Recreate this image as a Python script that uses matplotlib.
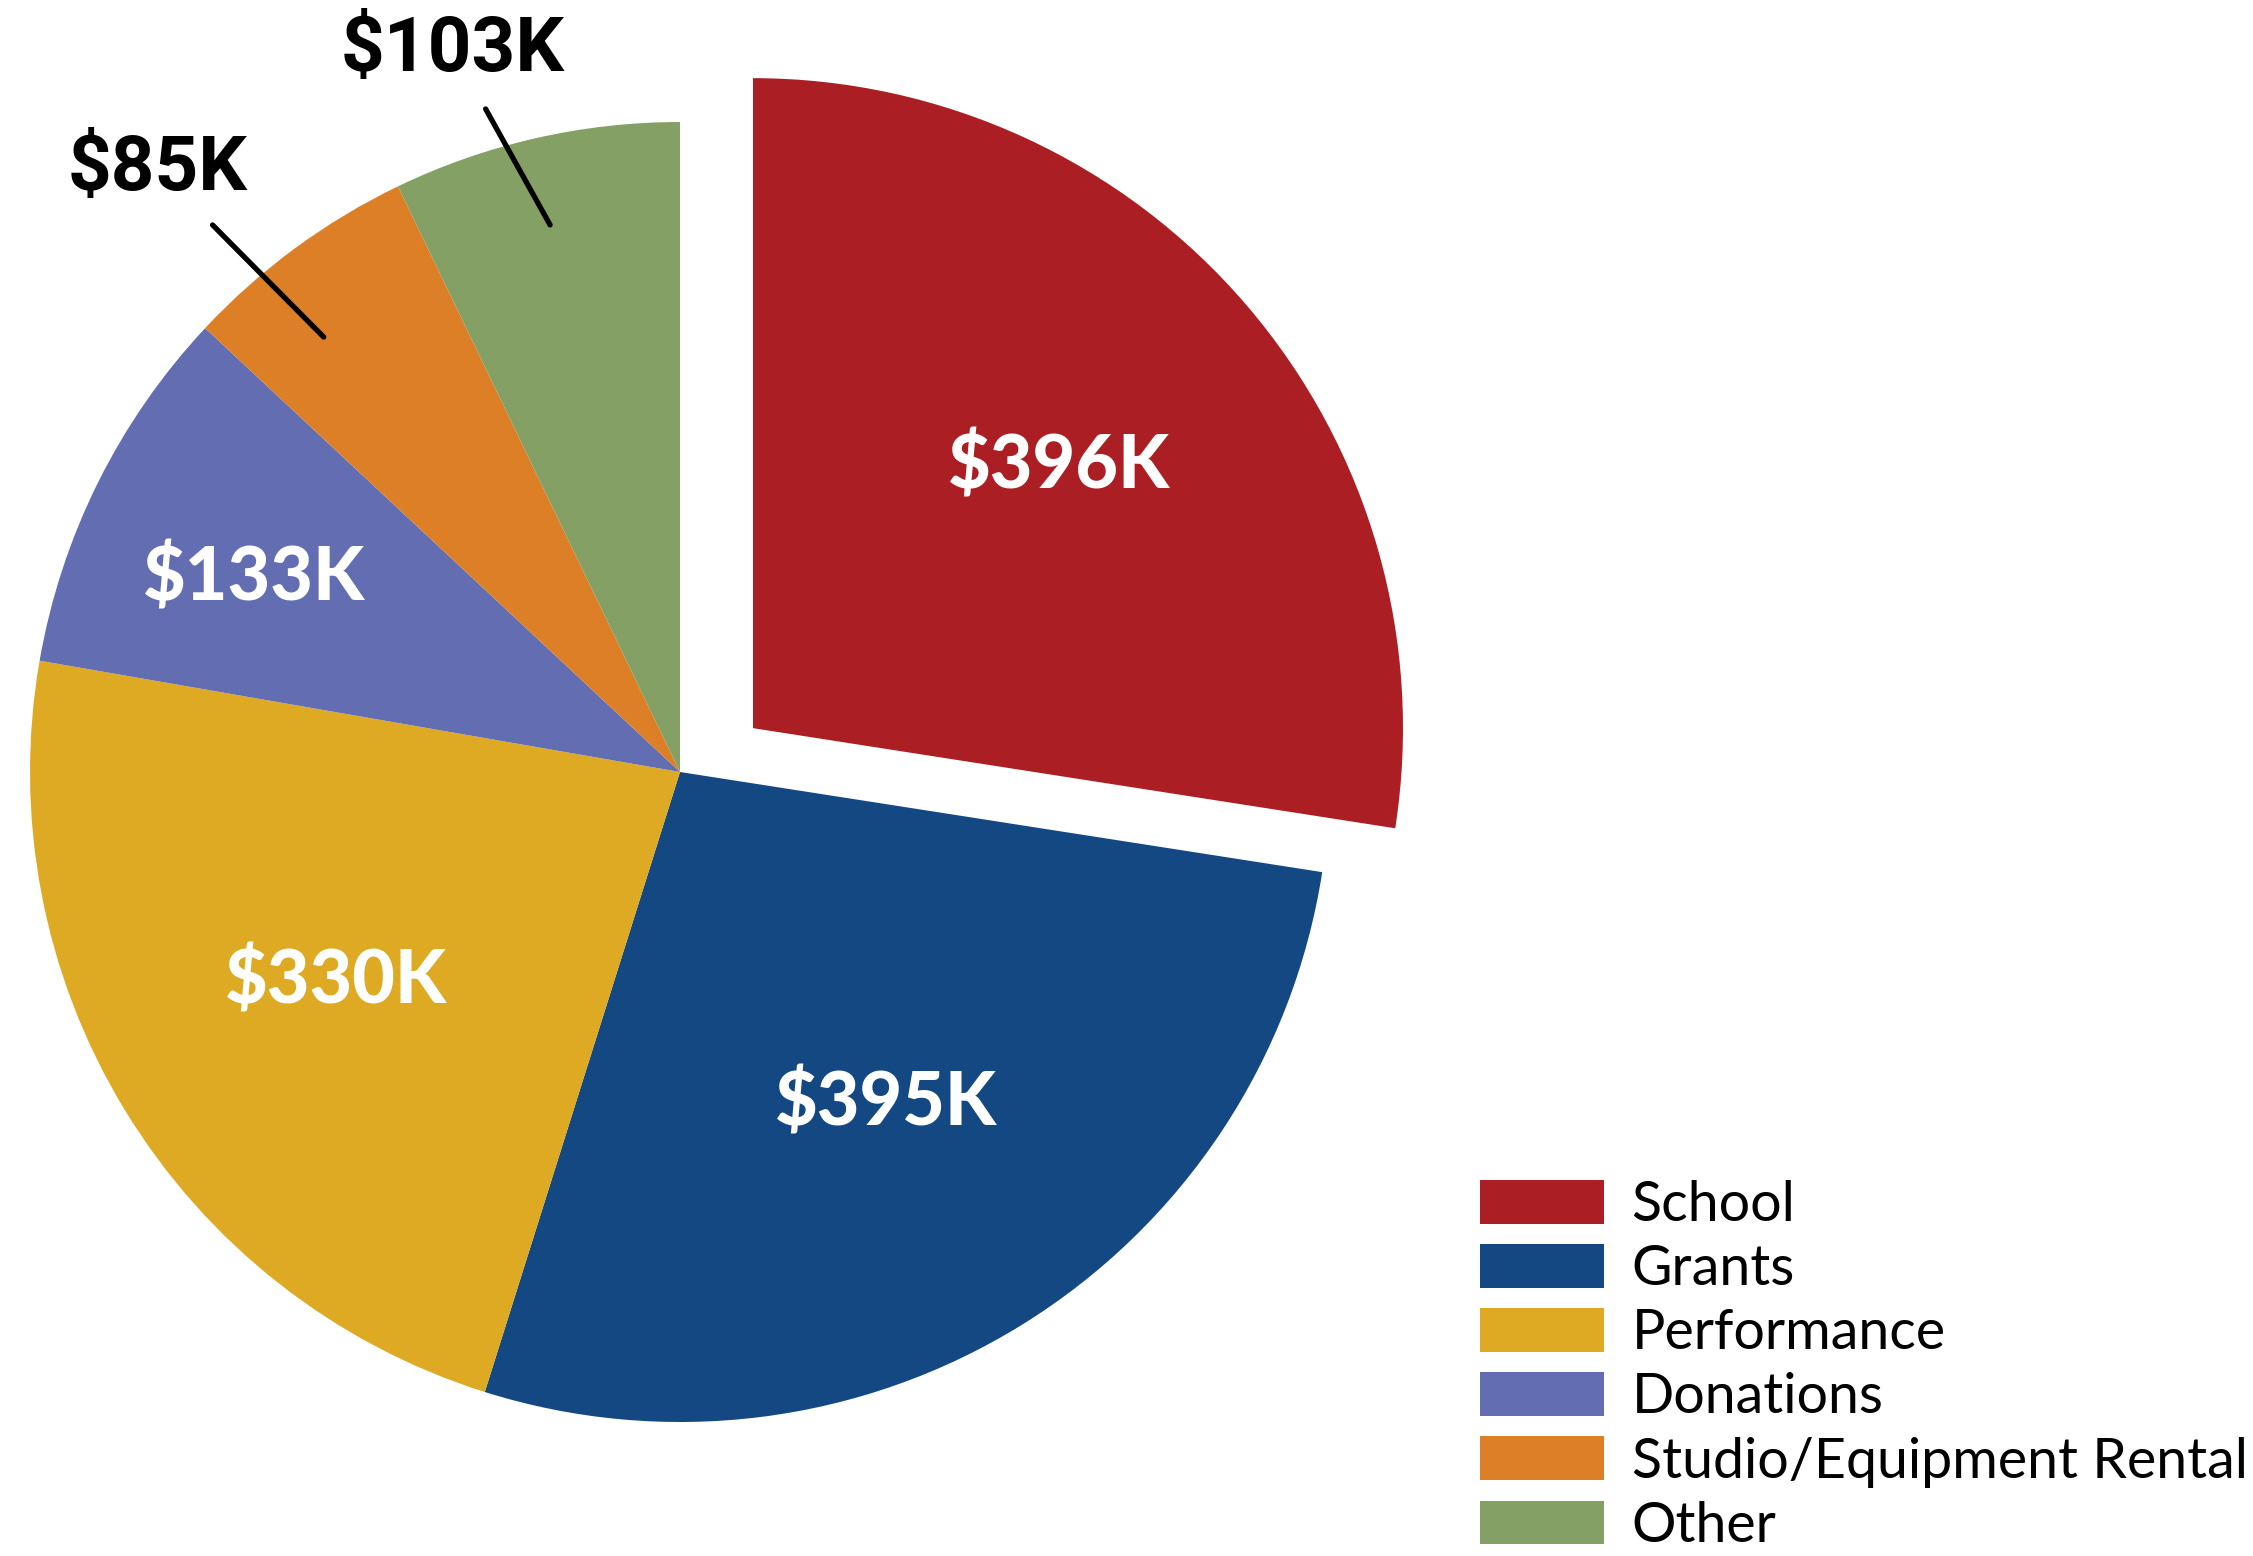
import numpy as np
import matplotlib
matplotlib.use('Agg')
import matplotlib.pyplot as plt

# revenue by source, thousands of dollars
sources = ['School', 'Grants', 'Performance', 'Donations',
           'Studio/Equipment Rental', 'Other']
revenue = [396, 395, 330, 133, 85, 103]
value_labels = ['$396K', '$395K', '$330K', '$133K', '$85K', '$103K']
colors = ['#AB1F24', '#144882', '#DEAA23', '#636DB2', '#DD7F27', '#84A064']

# label placement (radius as fraction, angle nudge in degrees)
inside = [True, True, True, True, False, False]
label_r = [0.62, 0.60, 0.62, 0.72, 1.226, 1.164]
label_dang = [0, 0, 0, 2.0, 4.6, 4.6]
line_r = 0.865
line_dang = [0, 0, 0, 0, 3.0, 0.5]

W, H = 2253, 1556
R = 650.0            # radius in px
cx, cy = 680.0, 772.0  # centre in px from top-left

fig = plt.figure(figsize=(W / 100, H / 100), dpi=100)
ax = fig.add_axes([0, 0, 1, 1])

wedges, _ = ax.pie(revenue, colors=colors, startangle=90, counterclock=False,
                   radius=1, wedgeprops=dict(linewidth=0))

# pull School slice out of the pie
shift = 0.131
ang = np.deg2rad(31)
wedges[0].set_center((shift * np.cos(ang), shift * np.sin(ang)))

for i, w in enumerate(wedges):
    mid = (w.theta1 + w.theta2) / 2
    c = w.center
    a = np.deg2rad(mid + label_dang[i])
    if inside[i]:
        ax.text(c[0] + label_r[i] * np.cos(a), c[1] + label_r[i] * np.sin(a),
                value_labels[i], ha='center', va='center', color='white',
                fontsize=53, fontweight='black', family=['Lato', 'DejaVu Sans'])
    else:
        b = np.deg2rad(mid + line_dang[i])
        ax.annotate(value_labels[i],
                    xy=(c[0] + line_r * np.cos(b), c[1] + line_r * np.sin(b)),
                    xytext=(c[0] + label_r[i] * np.cos(a), c[1] + label_r[i] * np.sin(a)),
                    ha='center', va='center', color='black', fontsize=55,
                    fontweight='bold', family=['Roboto', 'DejaVu Sans'],
                    arrowprops=dict(arrowstyle='-', color='black', lw=3.8,
                                    shrinkA=16, shrinkB=0))

ax.set_xlim(-cx / R, (W - cx) / R)
ax.set_ylim(-(H - cy) / R, cy / R)
ax.set_aspect('auto')
ax.axis('off')

leg = ax.legend(wedges, sources, loc='upper left',
                bbox_to_anchor=(1480 / W, 1 - 1180 / H),
                bbox_transform=fig.transFigure, frameon=False,
                borderpad=0, borderaxespad=0, handlelength=2.23,
                handleheight=0.83, handletextpad=0.5, labelspacing=0.235,
                prop={'family': ['Lato', 'DejaVu Sans'], 'size': 40})

fig.savefig('out.png', dpi=100, facecolor='white')
